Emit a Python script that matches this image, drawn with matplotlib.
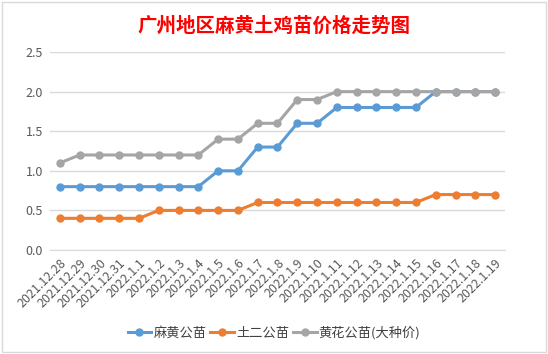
import matplotlib.pyplot as plt
from matplotlib.patches import Rectangle

plt.rcParams['font.family'] = ['Noto Sans CJK SC', 'DejaVu Sans']

dates = ['2021.12.28', '2021.12.29', '2021.12.30', '2021.12.31', '2022.1.1',
         '2022.1.2', '2022.1.3', '2022.1.4', '2022.1.5', '2022.1.6', '2022.1.7',
         '2022.1.8', '2022.1.9', '2022.1.10', '2022.1.11', '2022.1.12',
         '2022.1.13', '2022.1.14', '2022.1.15', '2022.1.16', '2022.1.17',
         '2022.1.18', '2022.1.19']
mahuang = [0.8, 0.8, 0.8, 0.8, 0.8, 0.8, 0.8, 0.8, 1.0, 1.0, 1.3, 1.3,
           1.6, 1.6, 1.8, 1.8, 1.8, 1.8, 1.8, 2.0, 2.0, 2.0, 2.0]
tuer = [0.4, 0.4, 0.4, 0.4, 0.4, 0.5, 0.5, 0.5, 0.5, 0.5, 0.6, 0.6,
        0.6, 0.6, 0.6, 0.6, 0.6, 0.6, 0.6, 0.7, 0.7, 0.7, 0.7]
huanghua = [1.1, 1.2, 1.2, 1.2, 1.2, 1.2, 1.2, 1.2, 1.4, 1.4, 1.6, 1.6,
            1.9, 1.9, 2.0, 2.0, 2.0, 2.0, 2.0, 2.0, 2.0, 2.0, 2.0]

fig = plt.figure(figsize=(5.48, 3.54), dpi=100)
fig.patches.append(Rectangle((0.004, 0.006), 0.992, 0.988, transform=fig.transFigure,
                             fill=False, edgecolor='#d9d9d9', linewidth=1))
ax = fig.add_axes([0.0912, 0.2938, 0.8303, 0.5592])

x = range(len(dates))
ax.plot(x, mahuang, color='#5b9bd5', lw=2.2, marker='o', ms=5, label='麻黄公苗')
ax.plot(x, tuer, color='#ed7d31', lw=2.2, marker='o', ms=5, label='土二公苗')
ax.plot(x, huanghua, color='#a5a5a5', lw=2.2, marker='o', ms=5, label='黄花公苗(大种价)')

ax.set_xlim(-0.5, len(dates) - 0.5)
ax.set_ylim(0, 2.5)
ax.set_yticks([0, 0.5, 1.0, 1.5, 2.0, 2.5])
ax.set_yticklabels(['0.0', '0.5', '1.0', '1.5', '2.0', '2.5'])
ax.set_xticks(list(x))
ax.set_xticklabels(dates, rotation=45, ha='right', rotation_mode='anchor')
ax.tick_params(axis='both', length=0, labelsize=9, colors='#595959', pad=5)
ax.grid(axis='y', color='#d9d9d9', lw=1)
ax.set_axisbelow(True)
for s in ['top', 'right', 'left']:
    ax.spines[s].set_visible(False)
ax.spines['bottom'].set_color('#d9d9d9')

fig.text(0.5, 0.927, '广州地区麻黄土鸡苗价格走势图', ha='center', va='center',
         color='#ff0000', fontsize=14, fontweight='bold')

fig.legend(loc='center', bbox_to_anchor=(0.5, 0.06), ncol=3, frameon=False,
           fontsize=9.5, handlelength=1.8, columnspacing=0.3, handletextpad=0.15,
           labelcolor='#404040')

fig.savefig('out.png', dpi=100)
